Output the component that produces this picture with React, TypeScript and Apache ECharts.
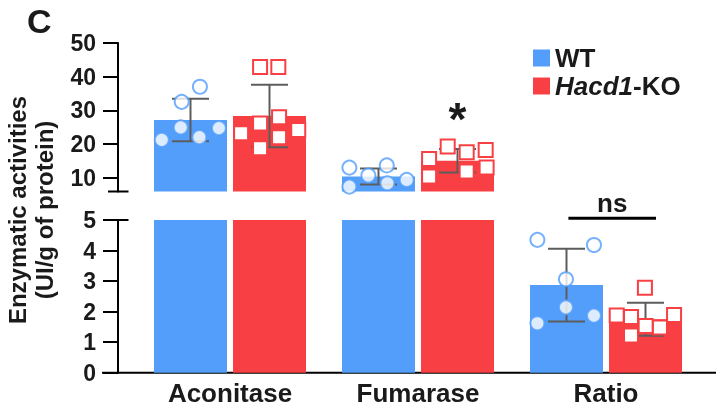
import React, { useEffect, useRef } from "react";
import * as echarts from "echarts";

// ---------- data ----------
const categories = ["Aconitase", "Fumarase", "Ratio"];
const wtMean = [27.1, 10.3, 2.87];
const wtSd = [6.3, 2.4, 1.19];
const koMean = [28.3, 15.0, 1.75];
const koSd = [9.3, 3.5, 0.54];

// individual values; the X arrays hold each dot's horizontal place inside its category (category units)
const wtAconitase = [32.5, 37.0, 24.9, 21.2, 22.0, 24.7];
const wtAconitaseX = [-0.257, -0.16, -0.262, -0.363, -0.163, -0.059];
const koAconitase = [42.9, 42.9, 26.1, 27.9, 23.2, 22.0, 24.1, 18.7];
const koAconitaseX = [0.16, 0.257, 0.16, 0.261, 0.059, 0.261, 0.363, 0.16];
const wtFumarase = [12.96, 10.6, 13.6, 7.3, 8.3, 9.3];
const wtFumaraseX = [-0.365, -0.264, -0.166, -0.365, -0.163, -0.06];
const koFumarase = [15.5, 19.2, 17.5, 18.2, 10.3, 11.8, 13.0];
const koFumaraseX = [0.059, 0.158, 0.259, 0.36, 0.059, 0.259, 0.365];
const wtRatio = [4.35, 4.18, 3.06, 2.14, 1.62, 1.87];
const wtRatioX = [-0.365, -0.064, -0.213, -0.213, -0.365, -0.064];
const koRatio = [2.78, 1.87, 1.82, 1.53, 1.48, 1.89, 1.22];
const koRatioX = [0.207, 0.057, 0.133, 0.211, 0.287, 0.362, 0.133];

const upperTicks = [10, 20, 30, 40, 50];
const lowerTicks = [0, 1, 2, 3, 4, 5];

// significance annotations (category position, value)
const starMark = [1.21, 27.5];
const nsMark = [1.8, 2.266, 5.06];

// ---------- style ----------
const BLUE = "#539efb";
const RED = "#f84044";
const INK = "#1a1a1a";
const FONT = "'Liberation Sans', Arial, Helvetica, sans-serif";
const BAR_W = 73;
const BAR_GAP = 6;
const HALF = (BAR_W + BAR_GAP) / 2;
const CAP = 18.5;

function pts(vals: number[], xs: number[], cat: number) {
  return vals.map((v, i) => [cat + xs[i], v]);
}

function errorItem(params: any, api: any) {
  const cat = api.value(0);
  const m = api.value(1);
  const sd = api.value(2);
  const side = api.value(3);
  const c = api.coord([cat, m]);
  const x = c[0] + side * HALF;
  const yT = api.coord([cat, m + sd])[1];
  const yB = api.coord([cat, m - sd])[1];
  const st = { stroke: "#5c5c5c", lineWidth: 2 };
  return {
    type: "group",
    children: [
      { type: "line", shape: { x1: x, y1: yT, x2: x, y2: yB }, style: st },
      { type: "line", shape: { x1: x - CAP, y1: yT, x2: x + CAP, y2: yT }, style: st },
      { type: "line", shape: { x1: x - CAP, y1: yB, x2: x + CAP, y2: yB }, style: st },
    ],
  };
}

export default function App() {
  const ref = useRef<HTMLDivElement>(null);
  useEffect(() => {
    if (!ref.current) return;
    const chart = echarts.init(ref.current, null, { renderer: "svg" });
    const axisLine = { show: true, onZero: false, lineStyle: { color: "#000", width: 2 } };
    const tickLabel = { fontSize: 23, fontWeight: "bold", fontFamily: FONT, color: INK, margin: 22 };
    const barCommon = { barWidth: BAR_W, barGap: (BAR_GAP / BAR_W) * 100 + "%", z: 2 };
    const wtSym = { color: "#fff", borderColor: BLUE, borderWidth: 2 };
    const koSym = { color: "#fff", borderColor: RED, borderWidth: 2, opacity: 1 };
    const black = { stroke: "#000", lineWidth: 2 };

    chart.setOption({
      animation: false,
      grid: [
        { left: 136, right: 19, top: 43, height: 148.5, outerBoundsMode: "none" },
        { left: 136, right: 19, top: 220, height: 152.7, outerBoundsMode: "none" },
      ],
      xAxis: [
        { gridIndex: 0, type: "category", data: categories, show: false },
        {
          gridIndex: 1,
          type: "category",
          data: categories,
          axisLine: { show: false },
          axisTick: { show: false },
          axisLabel: { fontSize: 26, fontWeight: "bold", fontFamily: FONT, color: INK, margin: 7 },
        },
        { gridIndex: 0, type: "value", min: -0.5, max: 2.5, show: false },
        { gridIndex: 1, type: "value", min: -0.5, max: 2.5, show: false },
      ],
      yAxis: [
        {
          gridIndex: 0,
          type: "value",
          min: 5.85,
          max: 50,
          offset: 18,
          axisLine,
          axisTick: { show: true, length: 15, lineStyle: { color: "#000", width: 2 }, customValues: upperTicks },
          axisLabel: { ...tickLabel, customValues: upperTicks },
          splitLine: { show: false },
        },
        {
          gridIndex: 1,
          type: "value",
          min: 0,
          max: 5,
          interval: 1,
          offset: 18,
          axisLine,
          axisTick: { show: true, length: 15, lineStyle: { color: "#000", width: 2 }, customValues: lowerTicks },
          axisLabel: { ...tickLabel, customValues: lowerTicks },
          splitLine: { show: false },
        },
      ],
      legend: {
        data: ["WT", "Hacd1-KO"],
        orient: "vertical",
        left: 528,
        top: 40,
        itemWidth: 17,
        itemHeight: 17,
        itemGap: 2,
        icon: "rect",
        formatter: (n: string) => (n === "Hacd1-KO" ? "{i|Hacd1}{r|-KO}" : "{r|" + n + "}"),
        textStyle: {
          fontSize: 26,
          fontWeight: "bold",
          fontFamily: FONT,
          color: INK,
          lineHeight: 22,
          rich: {
            i: { fontSize: 26, fontWeight: "bold", fontStyle: "italic", fontFamily: FONT, color: INK, lineHeight: 22 },
            r: { fontSize: 26, fontWeight: "bold", fontFamily: FONT, color: INK, lineHeight: 22 },
          },
        },
      },
      graphic: [
        { type: "text", left: 27, top: 4, style: { text: "C", font: `bold 34px ${FONT}`, fill: INK } },
        {
          type: "text",
          x: 31,
          y: 210,
          rotation: Math.PI / 2,
          style: {
            text: "Enzymatic activities\n(UI/g of protein)",
            font: `bold 24px ${FONT}`,
            fill: INK,
            align: "center",
            verticalAlign: "middle",
            lineHeight: 26.5,
          },
        },
        // axis lines of the broken y axis and the shared baseline
        { type: "line", shape: { x1: 118, y1: 43, x2: 118, y2: 191.5 }, style: black },
        { type: "line", shape: { x1: 118, y1: 220, x2: 118, y2: 372.7 }, style: black },
        { type: "line", shape: { x1: 102, y1: 372.7, x2: 716, y2: 372.7 }, style: black },
        { type: "line", shape: { x1: 108, y1: 191.5, x2: 128.5, y2: 191.5 }, style: black },
        { type: "line", shape: { x1: 108, y1: 220, x2: 128.5, y2: 220 }, style: black },
      ],
      series: [
        { ...barCommon, type: "bar", name: "WT", xAxisIndex: 0, yAxisIndex: 0, data: [wtMean[0], wtMean[1], "-"], itemStyle: { color: BLUE } },
        { ...barCommon, type: "bar", name: "Hacd1-KO", xAxisIndex: 0, yAxisIndex: 0, data: [koMean[0], koMean[1], "-"], itemStyle: { color: RED } },
        { ...barCommon, type: "bar", name: "WT", xAxisIndex: 1, yAxisIndex: 1, data: wtMean, itemStyle: { color: BLUE } },
        { ...barCommon, type: "bar", name: "Hacd1-KO", xAxisIndex: 1, yAxisIndex: 1, data: koMean, itemStyle: { color: RED } },
        {
          type: "custom",
          name: "SD upper",
          xAxisIndex: 0,
          yAxisIndex: 0,
          z: 3,
          renderItem: errorItem,
          encode: { x: 0, y: 1 },
          data: [
            [0, wtMean[0], wtSd[0], -1],
            [1, wtMean[1], wtSd[1], -1],
            [0, koMean[0], koSd[0], 1],
            [1, koMean[1], koSd[1], 1],
          ],
        },
        {
          type: "custom",
          name: "SD lower",
          xAxisIndex: 1,
          yAxisIndex: 1,
          z: 3,
          renderItem: errorItem,
          encode: { x: 0, y: 1 },
          data: [
            [2, wtMean[2], wtSd[2], -1],
            [2, koMean[2], koSd[2], 1],
          ],
        },
        {
          type: "scatter",
          name: "WT values",
          xAxisIndex: 2,
          yAxisIndex: 0,
          z: 4,
          clip: false,
          symbol: "circle",
          symbolSize: 14,
          itemStyle: wtSym,
          data: [...pts(wtAconitase, wtAconitaseX, 0), ...pts(wtFumarase, wtFumaraseX, 1)],
        },
        {
          type: "scatter",
          name: "KO values",
          xAxisIndex: 2,
          yAxisIndex: 0,
          z: 4,
          clip: false,
          symbol: "rect",
          symbolSize: 14,
          itemStyle: koSym,
          data: [...pts(koAconitase, koAconitaseX, 0), ...pts(koFumarase, koFumaraseX, 1)],
        },
        {
          type: "scatter",
          name: "WT ratio values",
          xAxisIndex: 3,
          yAxisIndex: 1,
          z: 4,
          clip: false,
          symbol: "circle",
          symbolSize: 14,
          itemStyle: wtSym,
          data: pts(wtRatio, wtRatioX, 2),
        },
        {
          type: "scatter",
          name: "KO ratio values",
          xAxisIndex: 3,
          yAxisIndex: 1,
          z: 4,
          clip: false,
          symbol: "rect",
          symbolSize: 14,
          itemStyle: koSym,
          data: pts(koRatio, koRatioX, 2),
        },
        {
          type: "custom",
          name: "star",
          xAxisIndex: 2,
          yAxisIndex: 0,
          z: 5,
          clip: false,
          data: [starMark],
          renderItem: (p: any, api: any) => {
            const c = api.coord([api.value(0), api.value(1)]);
            return {
              type: "text",
              x: c[0],
              y: c[1],
              style: { text: "*", font: `bold 46px ${FONT}`, fill: INK, align: "center", verticalAlign: "middle" },
            };
          },
        },
        {
          type: "custom",
          name: "ns",
          xAxisIndex: 3,
          yAxisIndex: 1,
          z: 5,
          clip: false,
          data: [nsMark],
          renderItem: (p: any, api: any) => {
            const a = api.coord([api.value(0), api.value(2)]);
            const b = api.coord([api.value(1), api.value(2)]);
            return {
              type: "group",
              children: [
                { type: "line", shape: { x1: a[0], y1: a[1], x2: b[0], y2: b[1] }, style: { stroke: "#000", lineWidth: 3 } },
                {
                  type: "text",
                  x: (a[0] + b[0]) / 2,
                  y: a[1] - 2,
                  style: { text: "ns", font: `bold 26px ${FONT}`, fill: INK, align: "center", verticalAlign: "bottom" },
                },
              ],
            };
          },
        },
      ],
    });
    return () => chart.dispose();
  }, []);
  return <div ref={ref} style={{ position: "fixed", left: 0, top: 0, width: 719, height: 414 }} />;
}
